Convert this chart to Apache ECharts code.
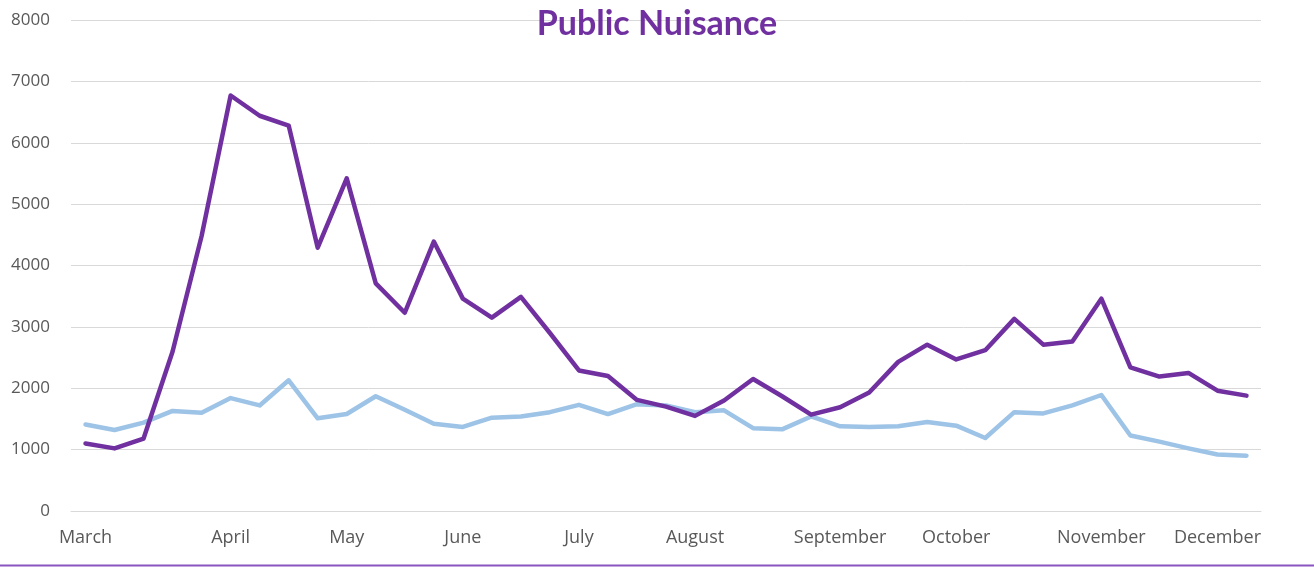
<!DOCTYPE html>
<html>
<head>
<meta charset="utf-8">
<script src="https://cdn.jsdelivr.net/npm/echarts@6/dist/echarts.min.js"></script>
<style>
html,body{margin:0;padding:0;background:#fff;}
#chart{width:1314px;height:567px;}
</style>
</head>
<body>
<div id="chart"></div>
<script>
const categories = [
  'March','','','','','April','','','','May','','','','June','','','','July','','','',
  'August','','','','','September','','','','October','','','','','November','','','','December',''
];
const seriesPurple = [
  1100,1020,1180,2600,4480,6770,6440,6280,4290,5420,3710,3230,4390,3460,3150,3490,2900,2290,2200,1810,1700,
  1550,1800,2150,1870,1570,1690,1930,2430,2710,2470,2620,3130,2710,2760,3460,2340,2190,2250,1960,1880
];
const seriesBlue = [
  1410,1320,1440,1630,1600,1840,1720,2130,1510,1580,1870,1650,1420,1370,1520,1540,1610,1730,1580,1740,1720,
  1610,1640,1350,1330,1540,1380,1370,1380,1450,1390,1190,1610,1590,1720,1890,1230,1130,1020,920,900
];
const yTicks = [0,1000,2000,3000,4000,5000,6000,7000,8000];
const titleText = 'Public Nuisance';

const chart = echarts.init(document.getElementById('chart'));
chart.setOption({
  animation: false,
  backgroundColor: '#ffffff',
  title: {
    text: titleText,
    left: 'center',
    top: 2,
    textStyle: {color: '#7030A0', fontSize: 34, fontWeight: 'bold', fontFamily: 'Lato'}
  },
  grid: {left: 71, right: 53, top: 20, bottom: 56, containLabel: false},
  xAxis: {
    type: 'category',
    data: categories,
    boundaryGap: true,
    axisLine: {show: true, lineStyle: {color: '#D9D9D9', width: 1}},
    axisTick: {show: false},
    axisLabel: {interval: 0, color: '#595959', fontSize: 18, fontFamily: 'Open Sans', margin: 18}
  },
  yAxis: {
    type: 'value',
    min: yTicks[0],
    max: yTicks[yTicks.length - 1],
    interval: 1000,
    axisLine: {show: false},
    axisTick: {show: false},
    axisLabel: {color: '#595959', fontSize: 17, fontFamily: 'Open Sans', margin: 21,
      formatter: function (v) { return String(v); }},
    splitLine: {show: true, lineStyle: {color: '#D9D9D9', width: 1}}
  },
  series: [
    {
      type: 'line', data: seriesBlue, symbol: 'none', smooth: false,
      lineStyle: {color: '#9DC3E6', width: 4.5, cap: 'round', join: 'round'}, z: 2
    },
    {
      type: 'line', data: seriesPurple, symbol: 'none', smooth: false,
      lineStyle: {color: '#7030A0', width: 4.5, cap: 'round', join: 'round'}, z: 3
    }
  ],
  graphic: [
    {type: 'line', shape: {x1: 0, y1: 565.5, x2: 1314, y2: 565.5}, style: {stroke: '#8A55BF', lineWidth: 2}}
  ]
});
</script>
</body>
</html>
